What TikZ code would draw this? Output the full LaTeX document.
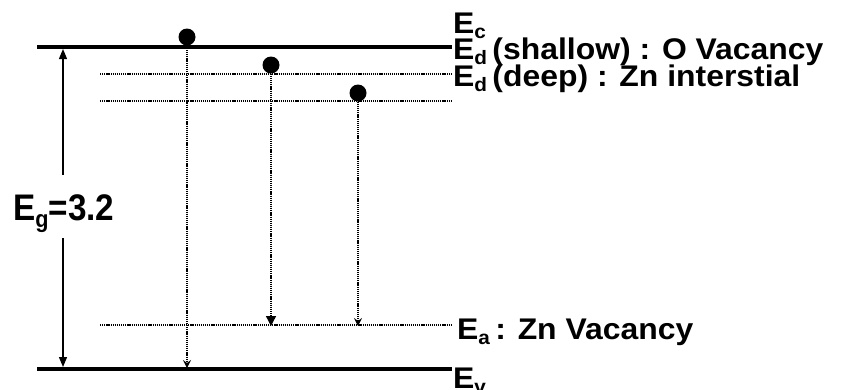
\documentclass[tikz,border=0pt]{standalone}
\usepackage{fontspec}
\setmainfont{Liberation Sans}
\usetikzlibrary{arrows.meta}
% subscript set smaller and lowered
\newcommand{\lvsub}[1]{\raisebox{-0.2em}{\fontsize{0.65em}{0.65em}\selectfont #1}}
\newcommand{\lbl}[1]{\scalebox{1.1}[1.03]{#1}}
\tikzset{
  band/.style={line width=3.6pt},
  level/.style={line width=1.2pt, dash pattern=on 1.2pt off 0.9pt},
  trans/.style={line width=1.3pt, dash pattern=on 1.2pt off 0.9pt},
  electron/.style={circle, fill=black, minimum size=17pt, inner sep=0pt},
  levlabel/.style={anchor=base west, inner sep=0pt, font=\bfseries\fontsize{29}{29}\selectfont},
}
\begin{document}
\begin{tikzpicture}[x=1pt, y=-1pt]
\useasboundingbox (0,0) rectangle (849,389);

% conduction and valence band edges
\coordinate (cL) at (37,47);  \coordinate (cR) at (452,47);
\coordinate (vL) at (37,369); \coordinate (vR) at (452,369);
\draw[band] (cL) -- (cR);
\draw[band] (vL) -- (vR);

% defect levels
\coordinate (sL) at (100,74);  \coordinate (sR) at (452,74);
\coordinate (dL) at (100,101); \coordinate (dR) at (452,101);
\coordinate (aL) at (100,325); \coordinate (aR) at (452,325);
\draw[level] (sL) -- (sR);
\draw[level] (dL) -- (dR);
\draw[level] (aL) -- (aR);

% electrons
\node[electron] (e1) at (187,37) {};
\node[electron] (e2) at (271,65) {};
\node[electron] (e3) at (358,93) {};

% transitions
\coordinate (t1) at (187,368);
\coordinate (t2) at (271,326);
\coordinate (t3) at (358,326);
\draw[trans, -{Stealth[length=8pt, width=8pt, inset=3pt]}] (e1) -- (t1);
\draw[trans, -{Triangle[length=10pt, width=10pt]}] (e2) -- (t2);
\draw[trans, -{Stealth[length=8pt, width=8pt, inset=3pt]}] (e3) -- (t3);

% band gap, the arrow broken around its label
\coordinate (gT) at (63,49);
\coordinate (gU) at (63,175);
\coordinate (gD) at (63,238);
\coordinate (gB) at (63,367);
\draw[line width=1.2pt, {Triangle[length=10pt, width=8pt]}-] (gT) -- (gU);
\draw[line width=1.2pt, -{Triangle[length=10pt, width=8pt]}] (gD) -- (gB);
\node[anchor=base west, inner sep=0pt, font=\bfseries\fontsize{37}{37}\selectfont] (eg) at (13,220) {\scalebox{0.9}[1]{E\lvsub{g}=3.2}};

% level labels
\node[levlabel] (lc) at (453,33)  {\lbl{E\lvsub{c}}};
\node[levlabel] (ls) at (453,59)  {\lbl{E\lvsub{d}\,(shallow) : O Vacancy}};
\node[levlabel] (ld) at (453,86)  {\lbl{E\lvsub{d}\,(deep) : Zn interstial}};
\node[levlabel] (la) at (457,339) {\lbl{E\lvsub{a}\,: Zn Vacancy}};
\node[levlabel] (lv) at (453,388) {\lbl{E\lvsub{v}}};
\end{tikzpicture}
\end{document}
